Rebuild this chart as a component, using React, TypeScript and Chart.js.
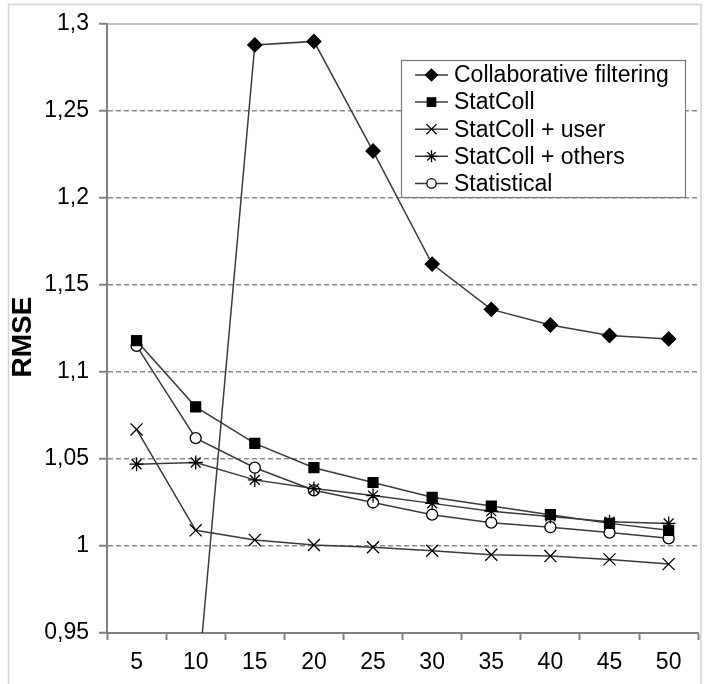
import React, { useEffect, useRef } from 'react';
import { Chart, registerables } from 'chart.js';
import { drawPoint } from 'chart.js/helpers';

Chart.register(...registerables);

// ---- data ----
const categories = ['5', '10', '15', '20', '25', '30', '35', '40', '45', '50'];
const seriesNames = ['Collaborative filtering', 'StatColl', 'StatColl + user', 'StatColl + others', 'Statistical'];
const collaborative = [null, 0.907, 1.288, 1.290, 1.227, 1.162, 1.136, 1.127, 1.121, 1.119];
const statColl = [1.118, 1.080, 1.059, 1.045, 1.0365, 1.028, 1.023, 1.018, 1.013, 1.009];
const statCollUser = [1.067, 1.009, 1.0035, 1.0006, 0.9993, 0.9973, 0.995, 0.9942, 0.9923, 0.9896];
const statCollOthers = [1.047, 1.048, 1.038, 1.033, 1.029, 1.0245, 1.020, 1.017, 1.014, 1.013];
const statistical = [1.115, 1.062, 1.045, 1.032, 1.025, 1.018, 1.0134, 1.0108, 1.0077, 1.0044];
const yTicks = [0.95, 1, 1.05, 1.1, 1.15, 1.2, 1.25, 1.3];
const yTitle = 'RMSE';

const FONT = "'Liberation Sans', Arial, sans-serif";
const LINE = '#3a3a3a';
const AXIS = '#808080';

const styles = [
  { pointStyle: 'rectRot', radius: 7, bg: '#000' },
  { pointStyle: 'rect', radius: 7, bg: '#000' },
  { pointStyle: 'crossRot', radius: 8.5, bg: '#000' },
  { pointStyle: 'star', radius: 7, bg: '#000' },
  { pointStyle: 'circle', radius: 5.5, bg: '#fff' },
];
const seriesData = [collaborative, statColl, statCollUser, statCollOthers, statistical];

const fmt = (v: number) => String(Number(v.toFixed(2))).replace('.', ',');

const framePlugin = {
  id: 'frame',
  beforeDraw(chart: any) {
    const { ctx, chartArea } = chart;
    ctx.save();
    ctx.fillStyle = '#fff';
    ctx.fillRect(0, 0, chart.width, chart.height);
    ctx.strokeStyle = '#d4d4d4';
    ctx.lineWidth = 1.5;
    ctx.beginPath();
    ctx.moveTo(8.5, chart.height);
    ctx.lineTo(8.5, 4.5);
    ctx.lineTo(701, 4.5);
    ctx.lineTo(701, chart.height);
    ctx.stroke();
    ctx.strokeStyle = '#c4c4c4';
    ctx.lineWidth = 2;
    ctx.beginPath();
    ctx.moveTo(chartArea.left, chartArea.top);
    ctx.lineTo(chartArea.right, chartArea.top);
    ctx.stroke();
    // y-axis title
    ctx.translate(23, 337);
    ctx.rotate(-Math.PI / 2);
    ctx.fillStyle = '#000';
    ctx.font = `bold 28px ${FONT}`;
    ctx.textAlign = 'center';
    ctx.textBaseline = 'middle';
    ctx.fillText(yTitle, 0, 0);
    ctx.restore();
  },
};

const legendPlugin = {
  id: 'boxLegend',
  afterDraw(chart: any) {
    const { ctx } = chart;
    const x = 401, y = 60, w = 284, h = 137;
    const rowH = 27.1;
    ctx.save();
    ctx.fillStyle = '#fff';
    ctx.fillRect(x, y, w, h);
    ctx.strokeStyle = '#7a7a7a';
    ctx.lineWidth = 1.2;
    ctx.strokeRect(x + 0.5, y + 0.5, w, h);
    chart.data.datasets.forEach((ds: any, i: number) => {
      const cy = y + 15 + i * rowH;
      ctx.strokeStyle = LINE;
      ctx.lineWidth = 1.5;
      ctx.beginPath();
      ctx.moveTo(415, cy);
      ctx.lineTo(448, cy);
      ctx.stroke();
      ctx.fillStyle = ds.pointBackgroundColor;
      ctx.strokeStyle = '#000';
      ctx.lineWidth = 1.3;
      drawPoint(ctx, { pointStyle: ds.pointStyle, radius: ds.pointRadius * 0.85, borderWidth: 1.3, rotation: 0 } as any, 431.5, cy);
      ctx.fillStyle = '#000';
      ctx.font = `23px ${FONT}`;
      ctx.textBaseline = 'middle';
      ctx.textAlign = 'left';
      ctx.fillText(ds.label, 454, cy + 1);
    });
    ctx.restore();
  },
};

export default function App() {
  const ref = useRef<HTMLCanvasElement>(null);
  useEffect(() => {
    const datasets = seriesNames.map((name, i) => ({
      label: name,
      data: seriesData[i],
      borderColor: LINE,
      borderWidth: 1.5,
      pointStyle: styles[i].pointStyle,
      pointRadius: styles[i].radius,
      pointBackgroundColor: styles[i].bg,
      pointBorderColor: '#000',
      pointBorderWidth: 1.3,
      tension: 0,
      spanGaps: false,
    }));
    const chart = new Chart(ref.current as HTMLCanvasElement, {
      type: 'line',
      data: { labels: categories, datasets },
      plugins: [framePlugin, legendPlugin],
      options: {
        animation: false,
        responsive: false,
        devicePixelRatio: 1,
        layout: { padding: { left: 0, top: 24, right: 4, bottom: 0 } },
        plugins: { legend: { display: false }, tooltip: { enabled: false } },
        scales: {
          x: {
            type: 'category',
            offset: true,
            grid: { offset: true, drawOnChartArea: false, drawTicks: true, tickLength: 7, tickColor: AXIS, tickWidth: 2 },
            border: { display: true, color: AXIS, width: 2 },
            ticks: { color: '#000', font: { family: FONT, size: 23 }, padding: 9, autoSkip: false, maxRotation: 0 },
            afterFit: (s: any) => { s.height = 51; },
          },
          y: {
            min: 0.95,
            max: 1.3,
            afterBuildTicks: (s: any) => { s.ticks = yTicks.map((v) => ({ value: v })); },
            afterFit: (s: any) => { s.width = 107; },
            grid: {
              color: (c: any) => {
                const v = c.tick ? c.tick.value : 0;
                return Math.abs(v - 0.95) < 1e-6 || Math.abs(v - 1.3) < 1e-6 ? 'rgba(0,0,0,0)' : '#8a8a8a';
              },
              lineWidth: 1.5,
              tickLength: 8,
              tickColor: AXIS,
              tickWidth: 2,
            },
            border: { display: true, color: AXIS, width: 2, dash: [5, 3] },
            ticks: { color: '#000', font: { family: FONT, size: 23 }, padding: 10, callback: (v: any) => fmt(Number(v)) },
            title: { display: false, text: yTitle },
          },
        },
      } as any,
    });
    return () => chart.destroy();
  }, []);
  return (
    <div style={{ position: 'absolute', left: 0, top: 0, width: 708, height: 684, background: '#fff' }}>
      <canvas ref={ref} width={708} height={684} style={{ display: 'block', width: 708, height: 684 }} />
    </div>
  );
}
